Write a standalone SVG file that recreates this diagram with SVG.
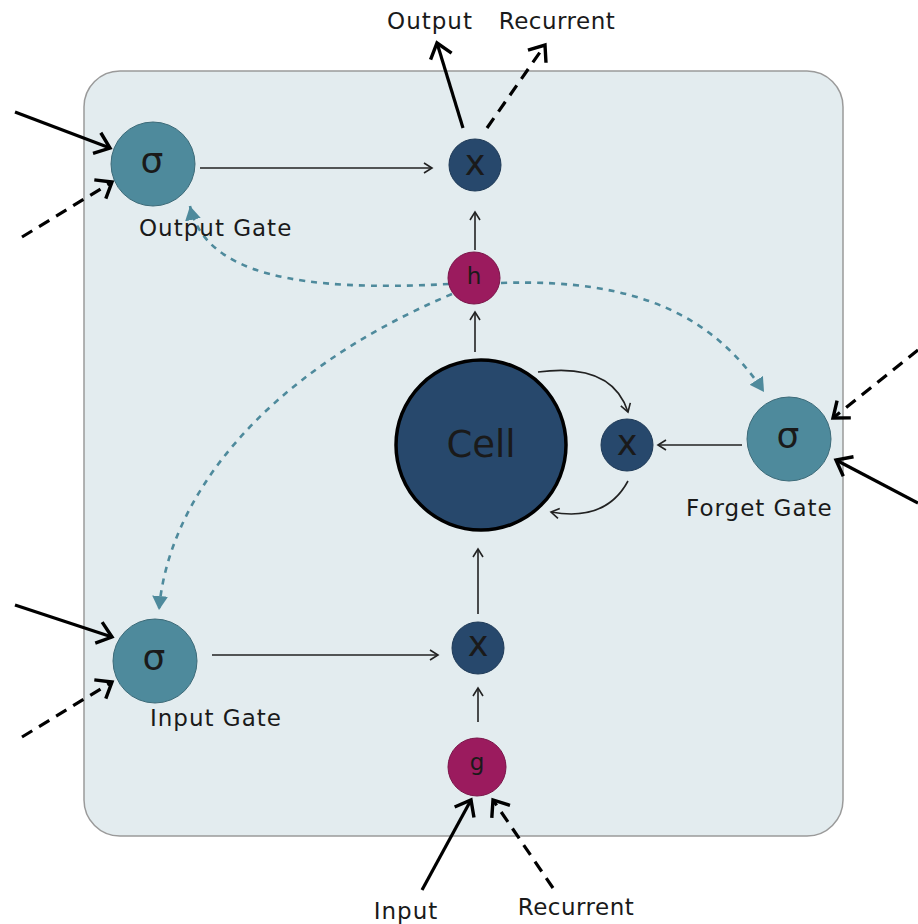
<svg xmlns="http://www.w3.org/2000/svg" width="918" height="924" viewBox="0 0 918 924">
  <style>
    .txt { font-family: "DejaVu Sans", Verdana, sans-serif; fill: #1a1a1a; }
    .lbl { font-size: 23px; letter-spacing: 1px; }
    .gate { fill: #4e8a9c; stroke: #3c6a78; stroke-width: 1; }
    .mul { fill: #27486c; stroke: #1f3a57; stroke-width: 1; }
    .act { fill: #9b1b5e; stroke: #7a1549; stroke-width: 1; }
    .thin { fill: none; stroke: #222; stroke-width: 1.6; marker-end: url(#thinHead); }
    .thick { fill: none; stroke: #000; stroke-width: 3.2; marker-end: url(#thickHead); }
    .dash { stroke-dasharray: 12 8; }
    .peep { fill: none; stroke: #4e8a9c; stroke-width: 2.6; stroke-dasharray: 6 6; marker-end: url(#peepHead); }
  </style>
  <defs>
    <marker id="thinHead" markerUnits="userSpaceOnUse" markerWidth="16" markerHeight="16" refX="9" refY="6" orient="auto">
      <path d="M1,1 L9,6 L1,11" fill="none" stroke="#222" stroke-width="1.6"/>
    </marker>
    <marker id="thickHead" markerUnits="userSpaceOnUse" markerWidth="32" markerHeight="32" refX="17" refY="13" orient="auto">
      <path d="M3,2 L17,13 L3,24" fill="none" stroke="#000" stroke-width="3.4"/>
    </marker>
    <marker id="peepHead" markerUnits="userSpaceOnUse" markerWidth="20" markerHeight="20" refX="14" refY="8" orient="auto">
      <path d="M0,0 L14,8 L0,16 Z" fill="#4e8a9c"/>
    </marker>
  </defs>

  <!-- cell body -->
  <rect x="84" y="71" width="759" height="765" rx="36" ry="36" fill="#e3ecef" stroke="#9a9a9a" stroke-width="1.5"/>

  <g id="connectors">
    <!-- peephole paths from h -->
    <path class="peep" d="M449,284 C300,292 205,275 190,206"/>
    <path class="peep" d="M501,283 C640,278 715,318 764,392"/>
    <path class="peep" d="M452,294 C260,375 168,500 159,610"/>

    <!-- internal flow -->
    <path class="thin" d="M200,168 L432,168"/>
    <path class="thin" d="M475,250 L475,212"/>
    <path class="thin" d="M475,352 L475,312"/>
    <path class="thin" d="M478,614 L478,549"/>
    <path class="thin" d="M478,722 L478,688"/>
    <path class="thin" d="M212,655 L438,655"/>
    <path class="thin" d="M742,445 L658,445"/>
    <path class="thin" d="M538,372 Q612,362 628,412"/>
    <path class="thin" d="M628,481 Q606,522 551,512"/>

    <!-- external inputs and outputs -->
    <path class="thick" d="M15,112 L110,148"/>
    <path class="thick dash" d="M22,237 L112,182"/>
    <path class="thick" d="M15,605 L112,637"/>
    <path class="thick dash" d="M22,737 L112,682"/>
    <path class="thick dash" d="M918,350 L833,418"/>
    <path class="thick" d="M918,503 L836,460"/>
    <path class="thick" d="M463,128 L437,43"/>
    <path class="thick dash" d="M487,128 L545,45"/>
    <path class="thick" d="M422,890 L471,800"/>
    <path class="thick dash" d="M553,888 L493,800"/>
  </g>

  <g id="output-gate">
    <circle class="gate" cx="153" cy="164" r="42"/>
    <text class="txt" x="152" y="160" font-size="36" text-anchor="middle" dominant-baseline="central">σ</text>
    <text class="txt lbl" x="139" y="236">Output Gate</text>
  </g>
  <g id="output-mul">
    <circle class="mul" cx="475" cy="165" r="26"/>
    <text class="txt" x="475" y="163" font-size="35" text-anchor="middle" dominant-baseline="central">x</text>
  </g>
  <g id="h-node">
    <circle class="act" cx="474" cy="278" r="26"/>
    <text class="txt" x="474" y="276" font-size="23" text-anchor="middle" dominant-baseline="central">h</text>
  </g>
  <g id="cell">
    <circle cx="481" cy="445" r="85" fill="#27486c" stroke="#000" stroke-width="3.5"/>
    <text class="txt" x="481" y="444" font-size="37" text-anchor="middle" dominant-baseline="central">Cell</text>
  </g>
  <g id="forget-mul">
    <circle class="mul" cx="627" cy="445" r="26"/>
    <text class="txt" x="627" y="443" font-size="35" text-anchor="middle" dominant-baseline="central">x</text>
  </g>
  <g id="forget-gate">
    <circle class="gate" cx="789" cy="439" r="42"/>
    <text class="txt" x="788" y="435" font-size="36" text-anchor="middle" dominant-baseline="central">σ</text>
    <text class="txt lbl" x="686" y="516">Forget Gate</text>
  </g>
  <g id="input-gate">
    <circle class="gate" cx="155" cy="661" r="42"/>
    <text class="txt" x="154" y="657" font-size="36" text-anchor="middle" dominant-baseline="central">σ</text>
    <text class="txt lbl" x="150" y="726">Input Gate</text>
  </g>
  <g id="input-mul">
    <circle class="mul" cx="478" cy="648" r="26"/>
    <text class="txt" x="478" y="644" font-size="35" text-anchor="middle" dominant-baseline="central">x</text>
  </g>
  <g id="g-node">
    <circle class="act" cx="477" cy="767" r="29"/>
    <text class="txt" x="477" y="762" font-size="23" text-anchor="middle" dominant-baseline="central">g</text>
  </g>

  <g id="labels">
    <text class="txt lbl" x="430" y="29" text-anchor="middle">Output</text>
    <text class="txt" x="557" y="29" font-size="23" letter-spacing="0.5" text-anchor="middle">Recurrent</text>
    <text class="txt lbl" x="406" y="919" text-anchor="middle">Input</text>
    <text class="txt" x="576" y="915" font-size="23" letter-spacing="0.5" text-anchor="middle">Recurrent</text>
  </g>
</svg>
